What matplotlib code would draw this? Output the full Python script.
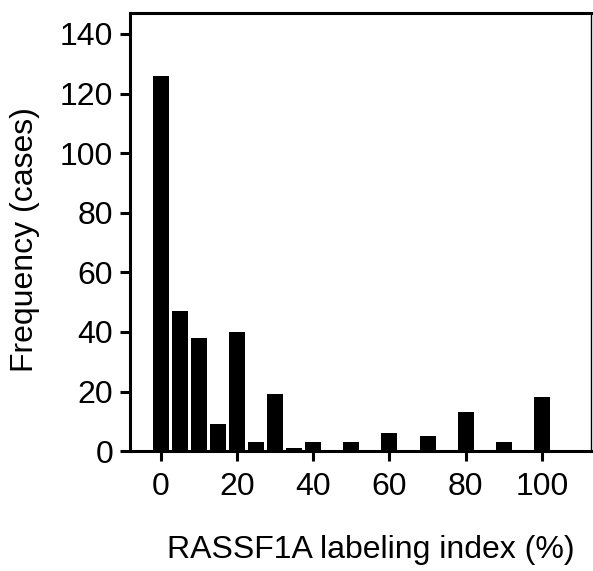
import matplotlib.pyplot as plt

plt.rcParams['font.family'] = ['Liberation Sans', 'DejaVu Sans']

# labeling index bins (%) and number of cases
index_bins = [0, 5, 10, 15, 20, 25, 30, 35, 40, 45, 50, 55, 60, 65, 70, 75, 80, 85, 90, 95, 100]
cases = [126, 47, 38, 9, 40, 3, 19, 1, 3, 0, 3, 0, 6, 0, 5, 0, 13, 0, 3, 0, 18]
x_ticks = [0, 20, 40, 60, 80, 100]
y_ticks = [0, 20, 40, 60, 80, 100, 120, 140]

fig = plt.figure(figsize=(5.93, 5.71), dpi=100)
ax = fig.add_axes([0.2192, 0.210, 0.7774, 0.767])

ax.bar(index_bins, cases, width=4.2, color='black')

ax.set_xlim(-8.1, 112.9)
ax.set_ylim(0, 147)
ax.set_xticks(x_ticks)
ax.set_yticks(y_ticks)
ax.tick_params(direction='out', length=7, width=2.2, labelsize=23)
ax.tick_params(axis='x', pad=8)
ax.tick_params(axis='y', pad=5)

for side in ['left', 'bottom', 'top']:
    ax.spines[side].set_linewidth(2.2)
ax.spines['right'].set_linewidth(1)

ax.set_xlabel('RASSF1A labeling index (%)', fontsize=23, labelpad=24)
ax.set_ylabel('Frequency (cases)', fontsize=23, labelpad=14)
ax.xaxis.label.set_x(0.522)
ax.yaxis.label.set_y(0.482)

plt.savefig('out.png', dpi=100)
